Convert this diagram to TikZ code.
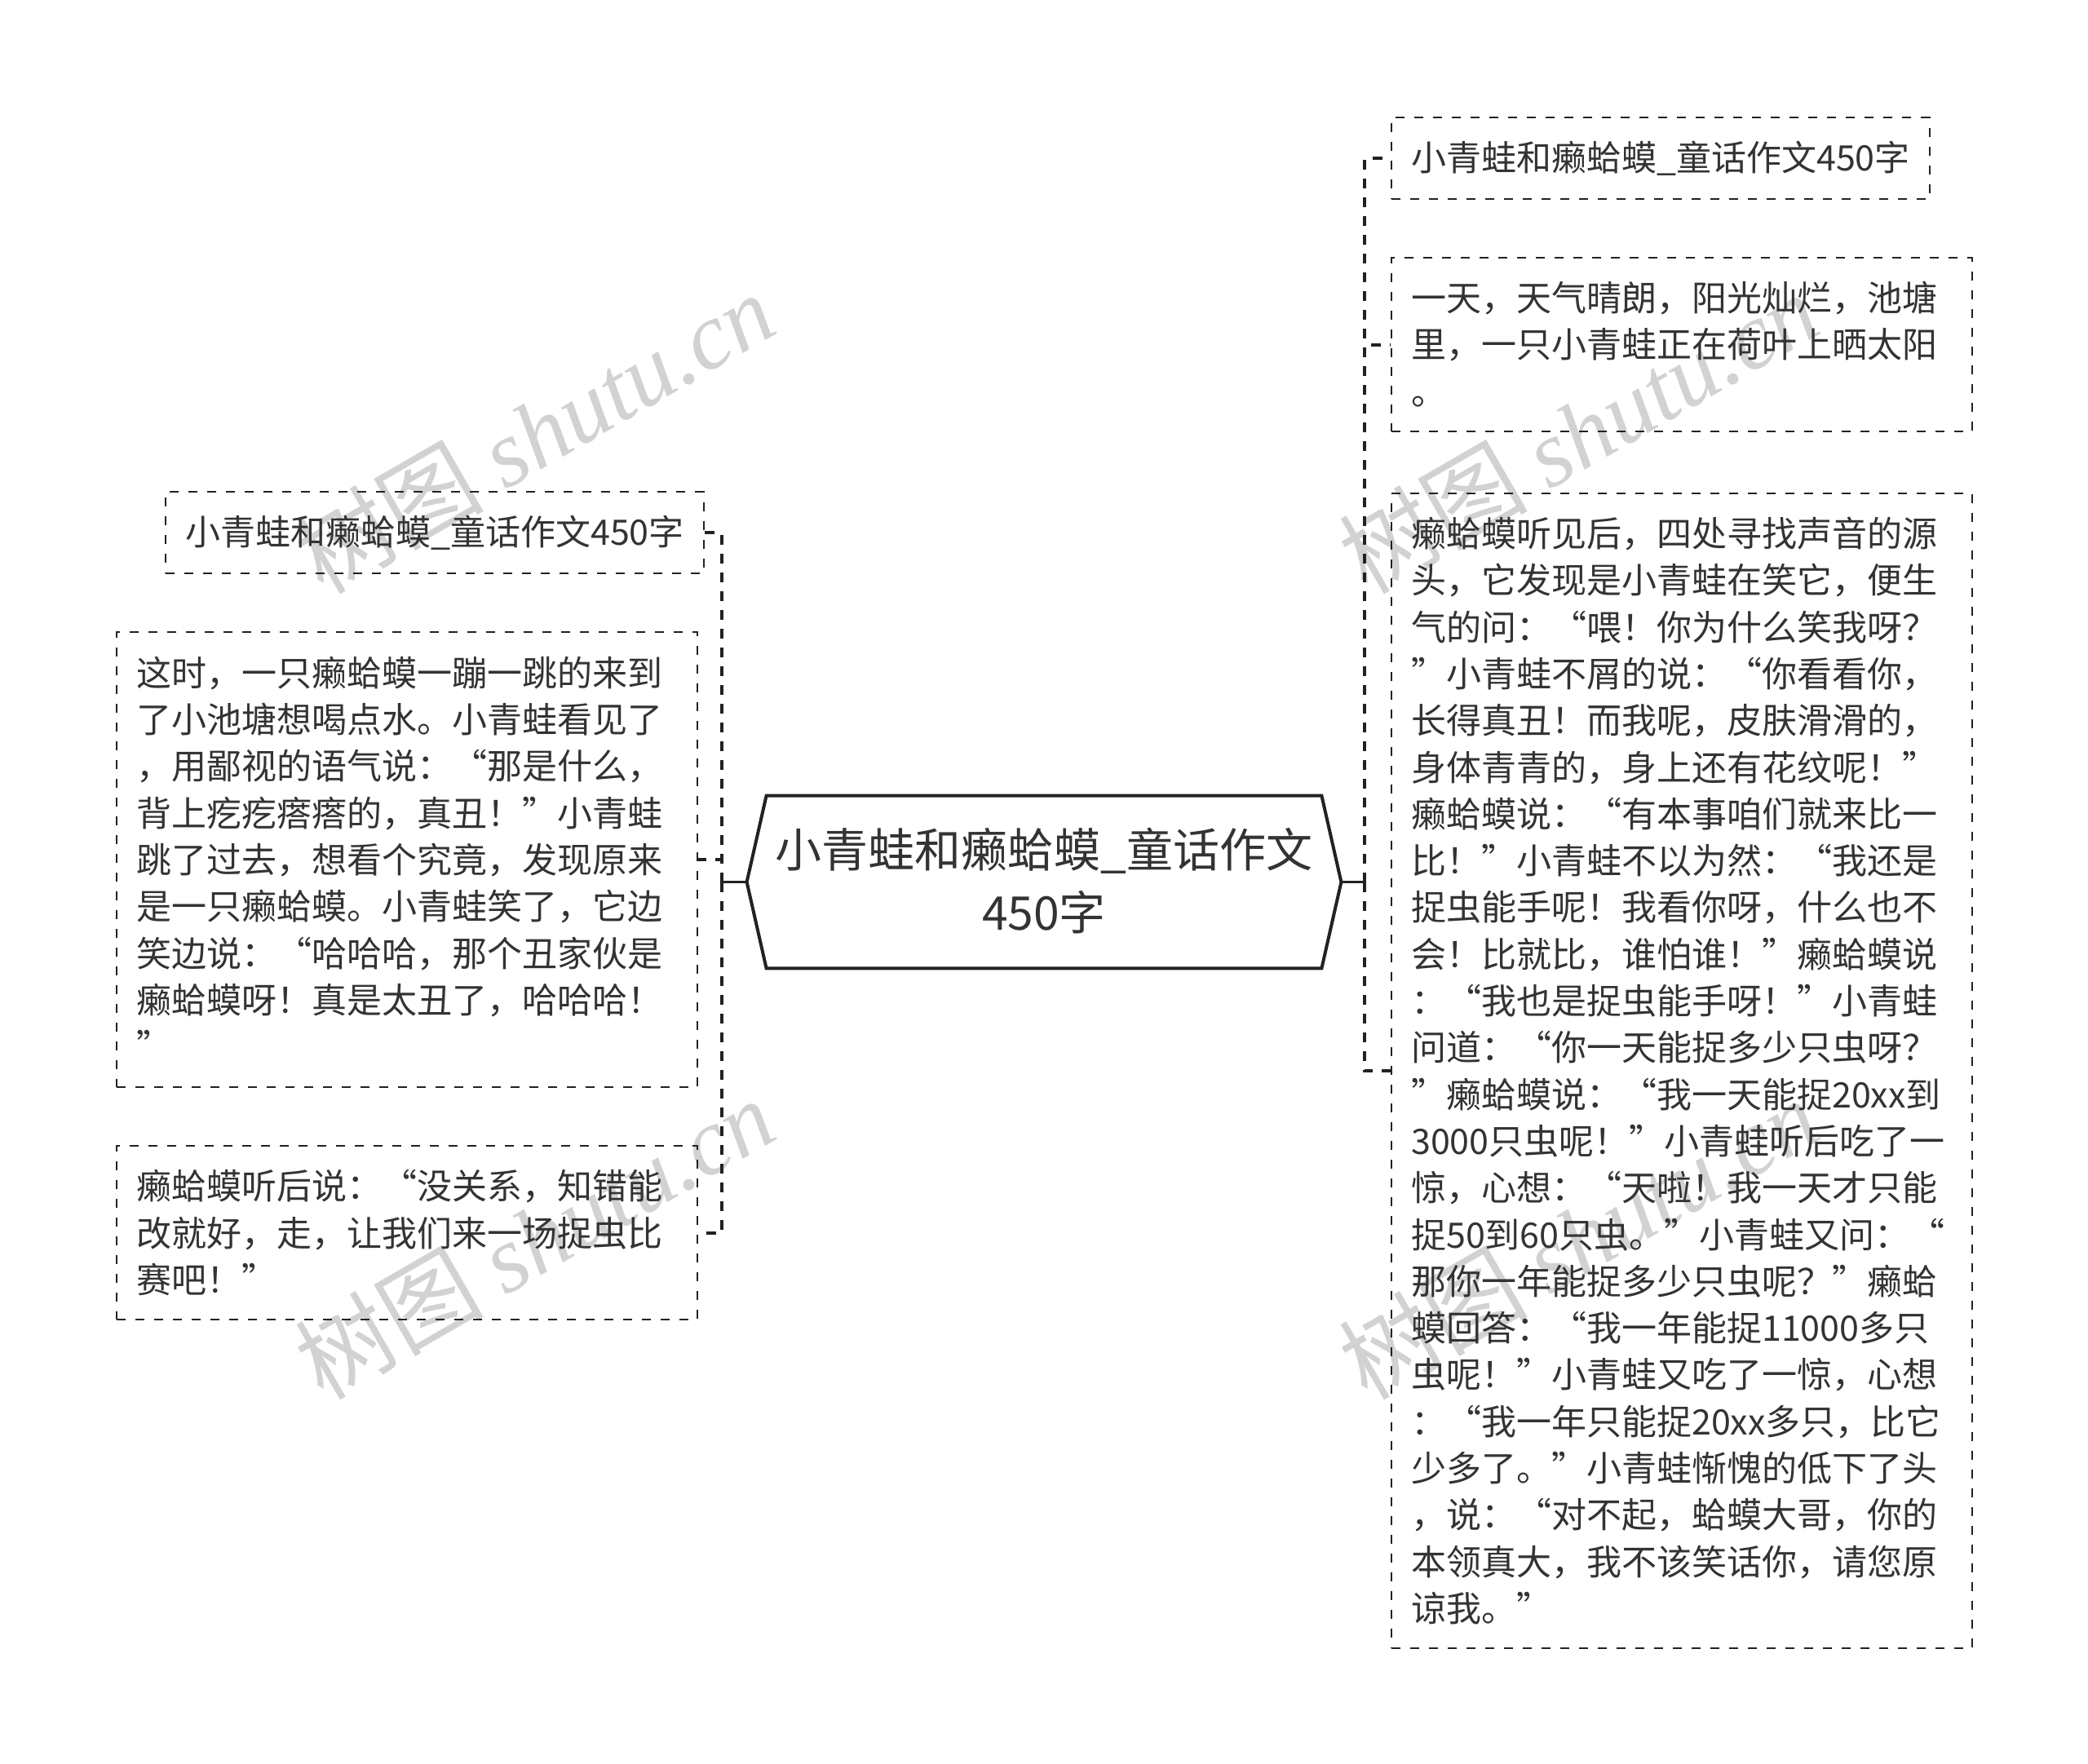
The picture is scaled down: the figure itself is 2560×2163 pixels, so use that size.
\documentclass[tikz,border=0pt]{standalone}
\usepackage{fontspec}
\setmainfont{Noto Sans CJK SC}
\newfontfamily\wmserif{Liberation Serif}
\definecolor{txt}{HTML}{333333}
\definecolor{ln}{HTML}{222222}
\definecolor{wm}{HTML}{D2D2D2}
\newcommand\bs{\rule[-0.12em]{0pt}{1em}}
\begin{document}
\begin{tikzpicture}[x=0.5pt,y=-0.5pt,
  box/.style={draw=ln, dash pattern=on 5.5pt off 6pt, line width=1.15pt, text=txt,
    inner xsep=12pt, inner ysep=0pt, font=\fontsize{21.5pt}{28.65pt}\selectfont, anchor=north west},
  para/.style={box, text width=332pt, align=left, minimum width=356pt},
  single/.style={box, minimum height=50pt},
  conn/.style={draw=ln, line width=2pt, dash pattern=on 6pt off 5.5pt},
  link/.style={draw=ln, line width=1.7pt},
  wmark/.style={text=wm, rotate=30, font=\fontsize{58pt}{60pt}\selectfont}]
\useasboundingbox (0,0) rectangle (2560,2163);

% watermarks
\node[wmark] (w1) at (655,530) {树图 {\wmserif\itshape shutu.cn}};
\node[wmark] (w2) at (1935,530) {树图 {\wmserif\itshape shutu.cn}};
\node[wmark] (w3) at (655,1518) {树图 {\wmserif\itshape shutu.cn}};
\node[wmark] (w4) at (1935,1518) {树图 {\wmserif\itshape shutu.cn}};

% central node
\node[font=\fontsize{28.5pt}{38.5pt}\selectfont, align=center, text=txt,
  minimum width=364pt, minimum height=105.5pt, inner sep=0pt] (c) at (1280,1081.5)
  {小青蛙和癞蛤蟆\_童话作文\\450字\bs};
\draw[link, line width=2pt, line join=miter] (c.west) -- ([xshift=12pt]c.north west) -- ([xshift=-12pt]c.north east)
  -- (c.east) -- ([xshift=-12pt]c.south east) -- ([xshift=12pt]c.south west) -- cycle;

% right children
\node[single, minimum width=327.5pt] (r1) at (1705,143) {小青蛙和癞蛤蟆\_童话作文450字};
\node[para, minimum height=106.5pt] (r2) at (1705,315) {\bs 一天，天气晴朗，阳光灿烂，池塘\\里，一只小青蛙正在荷叶上晒太阳\\。\bs};
\node[para, minimum height=708pt] (r3) at (1705,604) {\bs 癞蛤蟆听见后，四处寻找声音的源\\
头，它发现是小青蛙在笑它，便生\\
气的问：“喂！你为什么笑我呀？\\
”小青蛙不屑的说：“你看看你，\\
长得真丑！而我呢，皮肤滑滑的，\\
身体青青的，身上还有花纹呢！”\\
癞蛤蟆说：“有本事咱们就来比一\\
比！”小青蛙不以为然：“我还是\\
捉虫能手呢！我看你呀，什么也不\\
会！比就比，谁怕谁！”癞蛤蟆说\\
：“我也是捉虫能手呀！”小青蛙\\
问道：“你一天能捉多少只虫呀？\\
”癞蛤蟆说：“我一天能捉20xx到\\
3000只虫呢！”小青蛙听后吃了一\\
惊，心想：“天啦！我一天才只能\\
捉50到60只虫。”小青蛙又问：“\\
那你一年能捉多少只虫呢？”癞蛤\\
蟆回答：“我一年能捉11000多只\\
虫呢！”小青蛙又吃了一惊，心想\\
：“我一年只能捉20xx多只，比它\\
少多了。”小青蛙惭愧的低下了头\\
，说：“对不起，蛤蟆大哥，你的\\
本领真大，我不该笑话你，请您原\\
谅我。”\bs};

% left children
\node[single, minimum width=326pt] (l1) at (202,602) {小青蛙和癞蛤蟆\_童话作文450字};
\node[para, minimum height=279pt] (l2) at (142,774) {\bs 这时，一只癞蛤蟆一蹦一跳的来到\\
了小池塘想喝点水。小青蛙看见了\\
，用鄙视的语气说：“那是什么，\\
背上疙疙瘩瘩的，真丑！”小青蛙\\
跳了过去，想看个究竟，发现原来\\
是一只癞蛤蟆。小青蛙笑了，它边\\
笑边说：“哈哈哈，那个丑家伙是\\
癞蛤蟆呀！真是太丑了，哈哈哈！\\
”\bs};
\node[para, minimum height=106.5pt] (l3) at (142,1404) {\bs 癞蛤蟆听后说：“没关系，知错能\\改就好，走，让我们来一场捉虫比\\赛吧！”\bs};

% hubs and connectors
\coordinate (rhub) at (1673,1081.5);
\coordinate (lhub) at (885,1081.5);
\draw[link] (c.east) -- (rhub);
\draw[link, line width=2pt] ([yshift=-5.75pt]rhub) -- ([yshift=5.75pt]rhub);
\draw[link] (c.west) -- (lhub);
\draw[link, line width=2pt] ([yshift=-5.75pt]lhub) -- ([yshift=5.75pt]lhub);
\draw[conn] (rhub) |- (r1.west);
\draw[conn] (rhub) |- (r2.west);
\draw[conn] (rhub) |- (r3.west);
\draw[conn] (lhub) |- (l1.east);
\draw[conn] (lhub) |- (l2.east);
\draw[conn] (lhub) |- (l3.east);
\end{tikzpicture}
\end{document}
